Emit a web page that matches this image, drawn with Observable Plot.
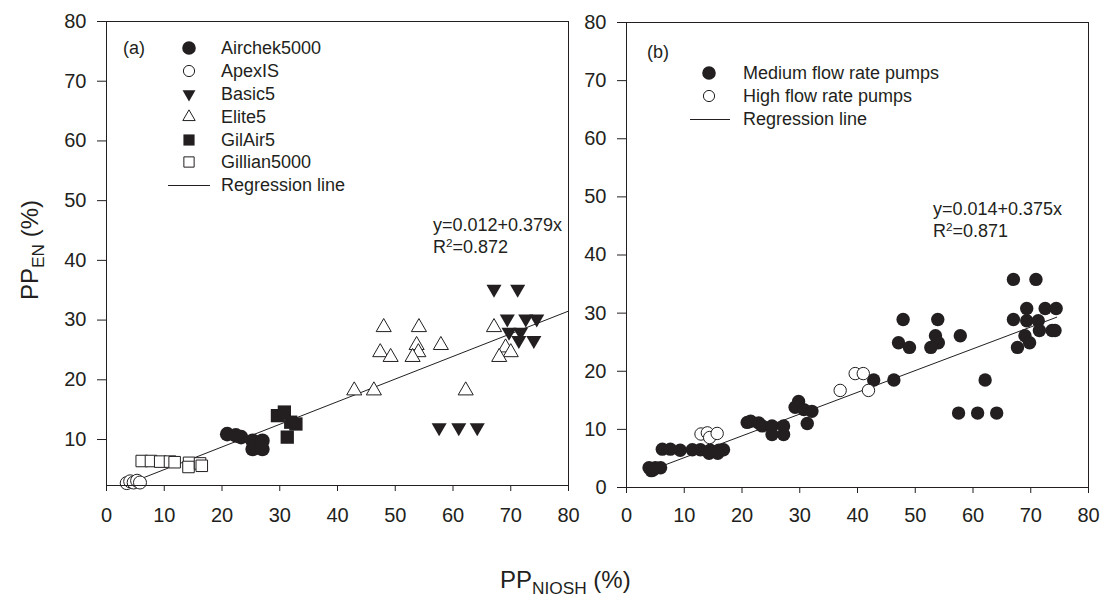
<!DOCTYPE html>
<html><head><meta charset="utf-8">
<script src="https://cdn.jsdelivr.net/npm/d3@7"></script>
<script src="https://cdn.jsdelivr.net/npm/@observablehq/plot@0.6"></script>
<style>
body{margin:0;background:#fff;font-family:"Liberation Sans",Arial,sans-serif;color:#231f20;}
#wrap{position:relative;width:1105px;height:600px;overflow:hidden;background:#fff;}
.t{position:absolute;white-space:nowrap;line-height:1;transform:translateY(-50%);}
.lg{position:absolute;}
sub{font-size:0.72em;vertical-align:baseline;position:relative;top:0.32em;}
sup{font-size:0.65em;vertical-align:baseline;position:relative;top:-0.5em;}
</style></head><body><div id="wrap"></div>
<script>
// ---------- data: panel (a) [PP_NIOSH %, PP_EN %] ----------
const airchek5000 = [[20.9,10.9],[22.4,10.7],[23.3,10.4],[25.3,9.8],[27.0,9.8],[25.3,8.4],[27.0,8.4]];
const apexIS = [[3.5,2.7],[4.1,3.0],[4.7,2.8],[5.3,3.1],[5.8,2.8]];
const basic5 = [[67.1,35.2],[71.2,35.2],[69.4,30.2],[72.6,30.2],[74.5,30.2],[69.7,28.0],[71.7,28.0],[71.4,26.6],[74.0,26.6],[57.6,12.0],[61.0,12.0],[64.2,12.0]];
const elite5 = [[48.0,28.8],[54.1,28.8],[47.4,24.6],[49.2,23.8],[53.7,25.8],[54.0,24.6],[53.0,23.8],[57.9,25.8],[67.1,28.8],[69.1,25.4],[70.0,24.6],[68.0,23.8],[42.9,18.2],[46.3,18.2],[62.2,18.2]];
const gilAir5 = [[29.6,14.0],[30.8,14.6],[31.9,12.9],[32.8,12.6],[31.3,10.4]];
const gillian5000 = [[6.1,6.4],[7.7,6.4],[9.3,6.3],[11.0,6.3],[11.8,6.2],[14.3,6.1],[14.2,5.4],[16.2,6.0],[16.5,5.6]];
const regressionA = [[3.5,2.5],[80,31.5]];
// ---------- data: panel (b) ----------
const mediumFlow = [[3.9,3.4],[4.3,2.9],[5.0,3.4],[5.9,3.4],[4.6,3.0],
  [6.2,6.6],[7.6,6.6],[9.3,6.4],[11.4,6.5],[12.8,6.5],[14.5,6.4],[14.3,5.9],[16.0,6.4],[15.8,5.9],[16.8,6.5],
  [20.9,11.2],[21.5,11.4],[22.9,11.1],[23.5,10.6],[25.2,10.6],[27.2,10.6],[25.2,9.1],[27.2,9.1],
  [29.8,14.8],[29.2,13.8],[30.7,13.4],[32.1,13.1],[31.3,11.0],
  [42.8,18.5],[46.3,18.5],[62.1,18.5],[57.5,12.8],[60.8,12.8],[64.1,12.8],
  [47.9,28.9],[53.9,28.9],[47.1,24.9],[49.0,24.1],[53.5,26.1],[54.0,24.9],[52.7,24.1],[57.8,26.1],
  [67.0,35.8],[70.9,35.8],[67.0,28.9],[69.3,30.8],[72.5,30.8],[74.4,30.8],[69.3,28.7],[71.3,28.7],
  [71.5,27.0],[73.7,27.0],[74.2,27.0],[69.0,26.1],[69.8,24.9],[67.7,24.1]];
const highFlow = [[12.9,9.2],[14.0,9.4],[14.4,8.6],[15.7,9.3],[37.0,16.7],[39.6,19.6],[41.0,19.6],[41.9,16.7]];
const regressionB = [[3.5,2.7],[74.5,29.3]];
// ---------- labels ----------
const xTicks = [0,10,20,30,40,50,60,70,80];
const yTicksA = [10,20,30,40,50,60,70,80];
const yTicksB = [0,10,20,30,40,50,60,70,80];
const legendA = ["Airchek5000","ApexIS","Basic5","Elite5","GilAir5","Gillian5000","Regression line"];
const legendB = ["Medium flow rate pumps","High flow rate pumps","Regression line"];
const eqA = ["y=0.012+0.379x","R<sup>2</sup>=0.872"];
const eqB = ["y=0.014+0.375x","R<sup>2</sup>=0.871"];

const FG = "#231f20";
const FONT = "Liberation Sans, Arial, sans-serif";
const triDown = {draw(ctx, size){const y=-Math.sqrt(size/(Math.sqrt(3)*3)); ctx.moveTo(0,-y*2); ctx.lineTo(-Math.sqrt(3)*y,y); ctx.lineTo(Math.sqrt(3)*y,y); ctx.closePath();}};
const X = d=>d[0], Y = d=>d[1];
const filled = (data, symbol, r) => Plot.dot(data, {x:X, y:Y, symbol, r, fill:FG, stroke:"none"});
const open = (data, symbol, r) => Plot.dot(data, {x:X, y:Y, symbol, r, fill:"white", stroke:FG, strokeWidth:1});

const wrap = document.getElementById("wrap");

const pa = Plot.plot({
  width:590, height:520, marginLeft:106, marginRight:22, marginTop:21, marginBottom:35,
  x:{domain:[0,80]}, y:{domain:[2.3,80]},
  style:{fontFamily:FONT, fontSize:"20px", color:FG, background:"transparent", overflow:"visible"},
  marks:[
    Plot.axisX({ticks:xTicks, tickSize:6, tickPadding:16, label:null, stroke:FG, fill:FG}),
    Plot.axisY({ticks:yTicksA, tickSize:9, tickPadding:11, label:null, stroke:FG, fill:FG}),
    Plot.line(regressionA, {x:X, y:Y, stroke:FG, strokeWidth:1}),
    open(gillian5000, "square", 6.5),
    open(apexIS, "circle", 6.5),
    open(elite5, "triangle", 5.6),
    filled(airchek5000, "circle", 7.3),
    filled(gilAir5, "square", 7.5),
    filled(basic5, triDown, 5.6),
    Plot.frame({stroke:FG, strokeWidth:1})
  ]
});
const pb = Plot.plot({
  width:585, height:525, marginLeft:106, marginRight:17, marginTop:22, marginBottom:38,
  x:{domain:[0,80]}, y:{domain:[0,80]},
  style:{fontFamily:FONT, fontSize:"20px", color:FG, background:"transparent", overflow:"visible"},
  marks:[
    Plot.axisX({ticks:xTicks, tickSize:6, tickPadding:14, label:null, stroke:FG, fill:FG}),
    Plot.axisY({ticks:yTicksB, tickSize:9, tickPadding:11, label:null, stroke:FG, fill:FG}),
    Plot.line(regressionB, {x:X, y:Y, stroke:FG, strokeWidth:1}),
    filled(mediumFlow, "circle", 6.7),
    open(highFlow, "circle", 6.2),
    Plot.frame({stroke:FG, strokeWidth:1})
  ]
});
for (const [svg, left] of [[pa,0],[pb,520]]) {
  svg.style.position="absolute"; svg.style.left=left+"px"; svg.style.top="0px"; svg.style.maxWidth="none";
  wrap.appendChild(svg);
}

function text(html, x, y, size, extra) {
  const d=document.createElement("div"); d.className="t"; d.innerHTML=html;
  d.style.left=x+"px"; d.style.top=y+"px"; d.style.fontSize=size+"px";
  if (extra) Object.assign(d.style, extra);
  wrap.appendChild(d); return d;
}
function glyph(cx, cy, symbol, r, isFilled) {
  const s=document.createElementNS("http://www.w3.org/2000/svg","svg");
  s.setAttribute("width",24); s.setAttribute("height",24); s.setAttribute("class","lg");
  s.style.left=(cx-12)+"px"; s.style.top=(cy-12)+"px";
  const p=document.createElementNS("http://www.w3.org/2000/svg","path");
  p.setAttribute("d", d3.symbol(symbol, Math.PI*r*r)());
  p.setAttribute("transform","translate(12,12)");
  p.setAttribute("fill", isFilled?FG:"white"); p.setAttribute("stroke", isFilled?"none":FG);
  s.appendChild(p); wrap.appendChild(s);
}
function hline(x1, x2, y) {
  const d=document.createElement("div"); d.className="lg";
  Object.assign(d.style,{left:x1+"px", top:(y-0.5)+"px", width:(x2-x1)+"px", height:"1px", background:FG});
  wrap.appendChild(d);
}

// Legend (a)
text("(a)", 123, 48, 18);
const symsA = [[d3.symbolCircle,6.8,true],[d3.symbolCircle,5.6,false],[triDown,4.8,true],[d3.symbolTriangle,4.6,false],[d3.symbolSquare,6.3,true],[d3.symbolSquare,5.8,false]];
legendA.forEach((lab,i)=>{
  const y = 48.3 + i*22.8;
  if (i<6) glyph(189, y, ...symsA[i]); else hline(168, 210, y);
  text(lab, 221, y, 18);
});
// Legend (b)
text("(b)", 647, 52, 18);
const symsB = [[d3.symbolCircle,6.8,true],[d3.symbolCircle,5.6,false]];
legendB.forEach((lab,i)=>{
  const y = 73.3 + i*23;
  if (i<2) glyph(709, y, ...symsB[i]); else hline(690, 730, y);
  text(lab, 743, y, 18);
});
// Equations
text(eqA[0], 433, 225, 18); text(eqA[1], 433, 247, 18);
text(eqB[0], 933, 209, 18); text(eqB[1], 933, 231, 18);
// Axis titles
text("PP<sub>EN</sub> (%)", 30, 250, 24, {transform:"translate(-50%,-50%) rotate(-90deg)"});
text("PP<sub>NIOSH</sub> (%)", 500, 580, 24);
</script></body></html>
